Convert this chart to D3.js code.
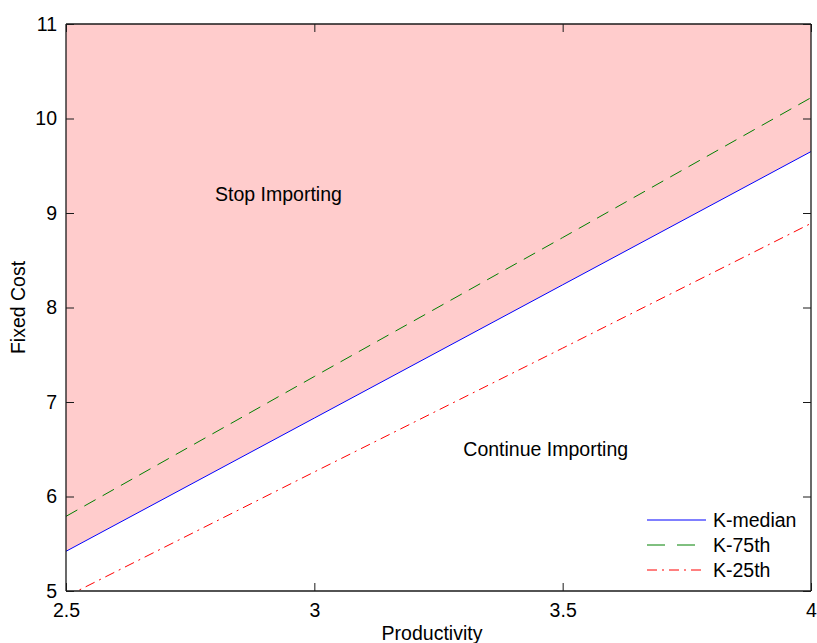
<!DOCTYPE html>
<html>
<head>
<meta charset="utf-8">
<script src="https://cdn.jsdelivr.net/npm/d3@7/dist/d3.min.js"></script>
<style>
  html, body { margin: 0; padding: 0; background: #fff; }
  svg { display: block; font-family: Arial, "Liberation Sans", sans-serif; }
</style>
</head>
<body>
<svg id="chart" width="817" height="643"></svg>
<script>
// Cut-off fixed cost against productivity for three capital levels
const productivity = [2.5, 3.0, 3.5, 4.0];
const kMedian = [5.42, 6.83, 8.24, 9.65];
const k75th   = [5.79, 7.27, 8.74, 10.22];
const k25th   = [4.94, 6.26, 7.57, 8.89];

const xTicks = [2.5, 3, 3.5, 4];
const yTicks = [5, 6, 7, 8, 9, 10, 11];

const seriesNames = ["K-median", "K-75th", "K-25th"];
const regionLabels = ["Stop Importing", "Continue Importing"];

const svg = d3.select("#chart");
const margin = { left: 66, top: 24, right: 6, bottom: 52 };
const W = 817, H = 643;
const x0 = margin.left, x1 = W - margin.right, y0 = margin.top, y1 = H - margin.bottom;

const x = d3.scaleLinear().domain([2.5, 4]).range([x0, x1]);
const y = d3.scaleLinear().domain([5, 11]).range([y1, y0]);

svg.append("defs").append("clipPath").attr("id", "plotClip")
  .append("rect").attr("x", x0).attr("y", y0).attr("width", x1 - x0).attr("height", y1 - y0);

const plot = svg.append("g").attr("clip-path", "url(#plotClip)");

// shaded region above the median threshold
const pts = productivity.map((p, i) => ({ p, v: kMedian[i] }));
const area = d3.area()
  .x(d => x(d.p))
  .y0(() => y(11))
  .y1(d => y(d.v));
plot.append("path").datum(pts).attr("d", area).attr("fill", "#ffcccc");

const line = d3.line().x(d => x(d.p)).y(d => y(d.v));
const styles = [
  { vals: kMedian, color: "#0000ff", dash: null },
  { vals: k75th,   color: "#008000", dash: "13,8" },
  { vals: k25th,   color: "#ff0000", dash: "10,5,2,5" }
];
styles.forEach(s => {
  plot.append("path")
    .datum(productivity.map((p, i) => ({ p, v: s.vals[i] })))
    .attr("d", line)
    .attr("fill", "none")
    .attr("stroke", s.color)
    .attr("stroke-width", 1)
    .attr("stroke-dasharray", s.dash);
});

// region labels
const fs = 19.5;
svg.append("text").attr("x", x(2.8)).attr("y", y(9.2)).attr("dy", "0.35em")
  .attr("font-size", fs).attr("fill", "#000").text(regionLabels[0]);
svg.append("text").attr("x", x(3.3)).attr("y", y(6.5)).attr("dy", "0.35em")
  .attr("font-size", fs).attr("fill", "#000").text(regionLabels[1]);

// axes with inward ticks on all four sides
const tickLen = 8;
const axisColor = "#1a1a1a";
const gBottom = svg.append("g").attr("transform", `translate(0,${y1})`)
  .call(d3.axisBottom(x).tickValues(xTicks).tickSize(-tickLen).tickPadding(12).tickFormat(d3.format("")));
const gTop = svg.append("g").attr("transform", `translate(0,${y0})`)
  .call(d3.axisTop(x).tickValues(xTicks).tickSize(-tickLen).tickFormat(""));
const gLeft = svg.append("g").attr("transform", `translate(${x0},0)`)
  .call(d3.axisLeft(y).tickValues(yTicks).tickSize(-tickLen).tickPadding(9).tickFormat(d3.format("")));
const gRight = svg.append("g").attr("transform", `translate(${x1},0)`)
  .call(d3.axisRight(y).tickValues(yTicks).tickSize(-tickLen).tickFormat(""));

[gBottom, gTop, gLeft, gRight].forEach(g => {
  g.select(".domain").attr("stroke", axisColor).attr("stroke-width", 1.3);
  g.selectAll(".tick line").attr("stroke", axisColor).attr("stroke-width", 1);
  g.selectAll(".tick text").attr("font-size", fs).attr("fill", "#000")
    .attr("font-family", "Arial, 'Liberation Sans', sans-serif");
});
// the end ticks run along the frame; hide the extra outer stubs
[gBottom, gTop].forEach(g => g.select(".domain").attr("d", `M${x0},0H${x1}`));
[gLeft, gRight].forEach(g => g.select(".domain").attr("d", `M0,${y0}V${y1}`));

// axis titles
svg.append("text").attr("x", 432).attr("y", 640).attr("text-anchor", "middle")
  .attr("font-size", fs).attr("fill", "#000").text("Productivity");
svg.append("text").attr("transform", `translate(25,${(y0 + y1) / 2}) rotate(-90)`)
  .attr("text-anchor", "middle").attr("font-size", fs).attr("fill", "#000").text("Fixed Cost");

// legend
const legend = svg.append("g");
const legendRows = [520, 545, 570];
styles.forEach((s, i) => {
  legend.append("line")
    .attr("x1", 647).attr("x2", 706)
    .attr("y1", legendRows[i]).attr("y2", legendRows[i])
    .attr("stroke", s.color).attr("stroke-width", 1)
    .attr("stroke-dasharray", i === 1 ? "18,12" : s.dash);
  legend.append("text").attr("x", 713).attr("y", legendRows[i]).attr("dy", "0.36em")
    .attr("font-size", fs).attr("fill", "#000").text(seriesNames[i]);
});
</script>
</body>
</html>
